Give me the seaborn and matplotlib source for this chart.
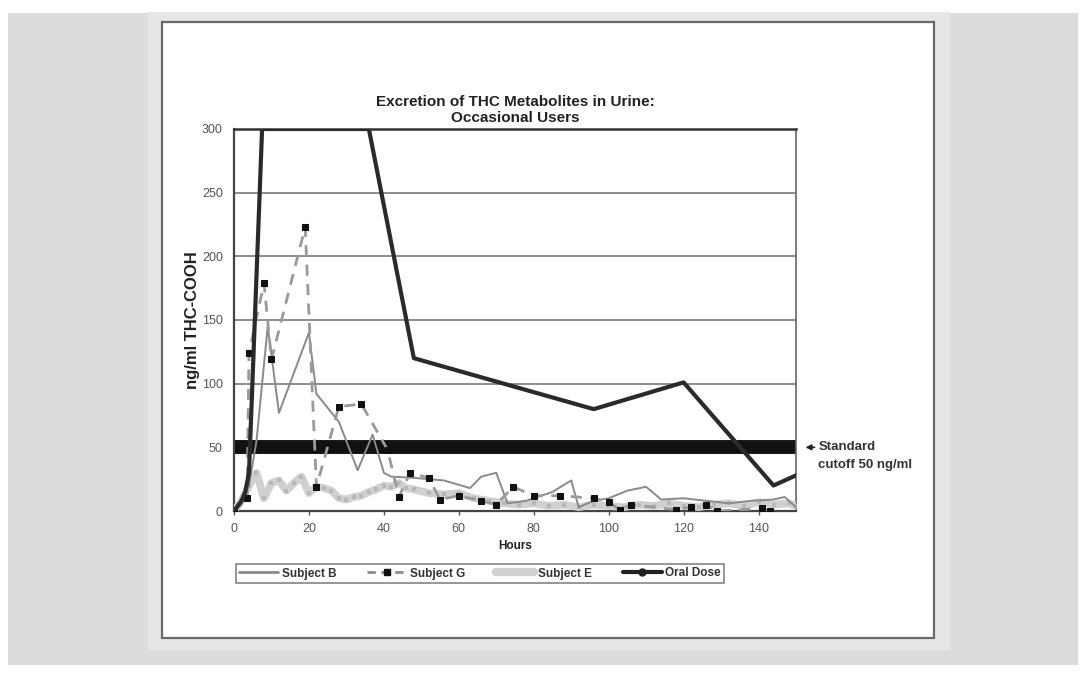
import matplotlib.pyplot as plt
import seaborn as sns
import pandas as pd
import numpy as np
from matplotlib.lines import Line2D
from matplotlib.patches import Rectangle

# --- Data ---
b_hours = [0, 2, 4, 6, 9, 12, 20, 22, 28, 33, 37, 40, 42, 48, 56, 63, 66, 70, 73,
           78, 85, 90, 92, 96, 100, 105, 110, 114, 120, 126, 132, 138, 144, 147, 150]
b_conc = [0, 5, 20, 55, 145, 77, 140, 92, 70, 32, 60, 30, 27, 26, 24, 18, 27, 30, 6,
          8, 15, 24, 3, 8, 10, 16, 19, 9, 10, 8, 6, 8, 9, 11, 3]

g_hours = [0, 3.5, 4, 8, 10, 19, 22, 28, 34, 41, 44, 47, 52, 55, 60, 66, 70, 74.5,
           80, 87, 96, 100, 103, 106, 118, 122, 126, 129, 141, 143]
g_conc = [0, 10, 124, 179, 119, 223, 19, 82, 84, 48, 11, 30, 26, 9, 12, 8, 5, 19,
          12, 12, 10, 7, 1, 5, 1, 3, 5, 0, 2, 0]

e_hours = [0, 2, 4, 6, 8, 10, 12, 14, 16, 18, 20, 22, 24, 26, 28, 30, 32, 34, 36,
           38, 40, 42, 44, 46, 48, 52, 56, 60, 64, 68, 72, 76, 80, 84, 88, 92, 96,
           100, 104, 108, 112, 116, 120, 124, 128, 132, 136, 140, 144, 148, 150]
e_conc = [0, 8, 20, 30, 10, 22, 24, 16, 22, 27, 14, 19, 18, 16, 10, 9, 11, 12, 15,
          17, 20, 19, 22, 18, 17, 14, 13, 14, 10, 8, 6, 5, 6, 4, 5, 3, 5,
          4, 3, 5, 4, 6, 4, 3, 5, 6, 4, 7, 5, 6, 4]

oral_hours = [0, 2, 3, 4, 7.5, 12, 24, 36, 48, 96, 120, 144, 150]
oral_conc = [0, 8, 15, 30, 300, 300, 300, 300, 120, 80, 101, 20, 28]

cutoff = 50
series_names = ["Subject B", "Subject G", "Subject E", "Oral Dose"]

sns.set_style("white")
plt.rcParams['font.family'] = ['Liberation Sans', 'DejaVu Sans']

fig = plt.figure(figsize=(10.86, 6.77), dpi=100)
W, H = 1086, 677

def px_rect(x0, y0, x1, y1, **kw):
    return Rectangle((x0 / W, 1 - y1 / H), (x1 - x0) / W, (y1 - y0) / H,
                     transform=fig.transFigure, **kw)

# background frames
fig.patches.append(px_rect(8, 13, 1078, 665, facecolor="#dcdcdc", edgecolor="none", zorder=-3))
fig.patches.append(px_rect(148, 12, 950, 650, facecolor="#e6e6e4", edgecolor="none", zorder=-2))
fig.patches.append(px_rect(162, 22, 934, 638, facecolor="white", edgecolor="#6a6a6a",
                           linewidth=1.6, zorder=-1))

ax = fig.add_axes([234 / W, 1 - 511 / H, (796 - 234) / W, (511 - 129) / H])
ax.set_facecolor("none")

# gridlines
ax.set_yticks(np.arange(0, 301, 50))
ax.set_xticks(np.arange(0, 141, 20))
ax.yaxis.grid(True, color="#8c8c8c", linewidth=1.4)
ax.set_axisbelow(True)

# cutoff line
ax.axhline(cutoff, color="#111111", linewidth=10, zorder=2)

sns.lineplot(x=e_hours, y=e_conc, ax=ax, color="#d0d0d0", linewidth=5.5, sort=False,
             marker="s", markersize=3, markeredgewidth=0, markerfacecolor="#b8b8b8", zorder=3)
sns.lineplot(x=b_hours, y=b_conc, ax=ax, color="#8a8a8a", linewidth=1.4, sort=False, zorder=4)
sns.lineplot(x=g_hours, y=g_conc, ax=ax, color="#9a9a9a", linewidth=2, sort=False,
             linestyle=(0, (4, 3)), marker="s", markersize=5, markerfacecolor="#111111",
             markeredgecolor="#111111", zorder=5)
sns.lineplot(x=oral_hours, y=oral_conc, ax=ax, color="#2a2a2a", linewidth=3, sort=False,
             zorder=6)

ax.set_xlim(0, 150)
ax.set_ylim(0, 300)

for s in ["left", "bottom"]:
    ax.spines[s].set_color("#444444")
    ax.spines[s].set_linewidth(1.6)
ax.spines["top"].set_color("#333333")
ax.spines["top"].set_linewidth(1.8)
ax.spines["right"].set_color("#666666")
ax.spines["right"].set_linewidth(1.2)

ax.tick_params(axis="both", labelsize=9, colors="#555555", length=3, width=1,
               direction="out", pad=3)
ax.tick_params(axis="y", length=0, pad=8)
ax.tick_params(axis="x", bottom=True, pad=6)

ax.set_xlabel("Hours", fontsize=8.5, fontweight="bold", color="#222222", labelpad=3)
ax.set_ylabel("ng/ml THC-COOH", fontsize=12, fontweight="bold", color="#222222", labelpad=1)
ax.set_title("Excretion of THC Metabolites in Urine:\nOccasional Users", fontsize=11,
             fontweight="bold", color="#222222", pad=5, linespacing=1.15)

# cutoff annotation
ax.annotate("", xy=(1.012, cutoff), xytext=(1.038, cutoff),
            xycoords=("axes fraction", "data"), textcoords=("axes fraction", "data"),
            arrowprops=dict(arrowstyle="-|>", color="#222222", lw=1.2, mutation_scale=8),
            annotation_clip=False)
ax.text(1.04, cutoff, "Standard", transform=ax.get_yaxis_transform(), va="center",
        ha="left", fontsize=9.5, fontweight="bold", color="#333333")
ax.text(1.04, cutoff - 13.5, "cutoff 50 ng/ml", transform=ax.get_yaxis_transform(),
        va="center", ha="left", fontsize=9.5, fontweight="bold", color="#333333")

# legend
handles = [
    Line2D([], [], color="#8a8a8a", linewidth=2),
    Line2D([], [], color="#8a8a8a", linewidth=2, linestyle=(0, (3, 2)), marker="s",
           markersize=4, markerfacecolor="#111111", markeredgecolor="#111111"),
    Line2D([], [], color="#d0d0d0", linewidth=6),
    Line2D([], [], color="#222222", linewidth=3, marker="o", markersize=5),
]
leg = fig.legend(handles, series_names, loc="center", bbox_to_anchor=(480 / W, 1 - 573.5 / H),
                 ncol=4, fontsize=8.5, frameon=True, fancybox=False, edgecolor="#666666",
                 handlelength=3.3, columnspacing=2.6, handletextpad=0.3, borderpad=0.3)
leg.get_frame().set_linewidth(1.2)
for t in leg.get_texts():
    t.set_fontweight("bold")
    t.set_color("#333333")

fig.savefig("out.png", dpi=100)
